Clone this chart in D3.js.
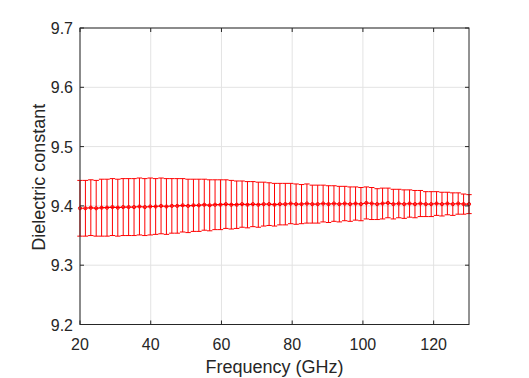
<!DOCTYPE html>
<html><head><meta charset="utf-8">
<script src="https://cdn.jsdelivr.net/npm/d3@7"></script>
<style>body{margin:0;background:#fff}svg{display:block}text{font-family:"Liberation Sans",Arial,sans-serif}</style>
</head><body><svg id="c" width="529" height="378"></svg>
<script>
const freqs = [20.00,21.53,23.06,24.58,26.11,27.64,29.17,30.69,32.22,33.75,35.28,36.81,38.33,39.86,41.39,42.92,44.44,45.97,47.50,49.03,50.56,52.08,53.61,55.14,56.67,58.19,59.72,61.25,62.78,64.31,65.83,67.36,68.89,70.42,71.94,73.47,75.00,76.53,78.06,79.58,81.11,82.64,84.17,85.69,87.22,88.75,90.28,91.81,93.33,94.86,96.39,97.92,99.44,100.97,102.50,104.03,105.56,107.08,108.61,110.14,111.67,113.19,114.72,116.25,117.78,119.31,120.83,122.36,123.89,125.42,126.94,128.47,130.00];
const means = [9.396,9.396,9.397,9.396,9.397,9.397,9.398,9.397,9.398,9.398,
9.398,9.399,9.398,9.399,9.399,9.400,9.399,9.400,9.400,9.401,
9.400,9.401,9.401,9.402,9.401,9.402,9.402,9.403,9.402,9.402,
9.403,9.402,9.403,9.402,9.403,9.403,9.402,9.403,9.403,9.404,
9.403,9.403,9.404,9.403,9.403,9.404,9.403,9.404,9.403,9.404,
9.403,9.404,9.403,9.405,9.404,9.403,9.404,9.405,9.403,9.404,
9.403,9.404,9.403,9.404,9.403,9.403,9.404,9.403,9.404,9.403,
9.404,9.403,9.403];
const errs = [.047,.047,.047,.047,.048,.048,.048,.048,.048,.048,
.048,.048,.048,.048,.047,.047,.047,.046,.046,.045,
.045,.044,.044,.043,.043,.042,.042,.041,.041,.040,
.039,.039,.038,.038,.037,.036,.036,.035,.035,.034,
.034,.033,.033,.032,.032,.031,.031,.030,.030,.029,
.029,.028,.028,.027,.027,.026,.026,.025,.025,.024,
.024,.023,.023,.022,.021,.021,.020,.020,.019,.019,
.018,.017,.016];
const xTicks = [20,40,60,80,100,120];
const yTicks = [9.2,9.3,9.4,9.5,9.6,9.7];

const L=80,R=469,T=28,B=324.5;
const svg=d3.select("#c");
const x=d3.scaleLinear().domain([20,130]).range([L,R]);
const y=d3.scaleLinear().domain([9.2,9.7]).range([B,T]);
const axisCol="#262626", gridCol="#e3e3e3";

// grid
svg.append("g").selectAll("line").data(xTicks).join("line")
  .attr("x1",d=>x(d)).attr("x2",d=>x(d)).attr("y1",T).attr("y2",B)
  .attr("stroke",gridCol).attr("stroke-width",1);
svg.append("g").selectAll("line").data(yTicks).join("line")
  .attr("x1",L).attr("x2",R).attr("y1",d=>y(d)).attr("y2",d=>y(d))
  .attr("stroke",gridCol).attr("stroke-width",1);

// error bars
const data=freqs.map((f,i)=>({f,m:means[i],e:errs[i]}));
const cap=2.7, red="#ff0000";
const eb=svg.append("g").attr("stroke",red).attr("stroke-width",1).attr("fill","none");
eb.selectAll("line.v").data(data).join("line").attr("class","v")
  .attr("x1",d=>x(d.f)).attr("x2",d=>x(d.f)).attr("y1",d=>y(d.m+d.e)).attr("y2",d=>y(d.m-d.e));
eb.selectAll("line.t").data(data).join("line").attr("class","t")
  .attr("x1",d=>x(d.f)-cap).attr("x2",d=>x(d.f)+cap).attr("y1",d=>y(d.m+d.e)).attr("y2",d=>y(d.m+d.e));
eb.selectAll("line.b").data(data).join("line").attr("class","b")
  .attr("x1",d=>x(d.f)-cap).attr("x2",d=>x(d.f)+cap).attr("y1",d=>y(d.m-d.e)).attr("y2",d=>y(d.m-d.e));
eb.append("path").datum(data).attr("d",d3.line().x(d=>x(d.f)).y(d=>y(d.m))).attr("stroke-width",1.2);
eb.selectAll("circle").data(data).join("circle")
  .attr("cx",d=>x(d.f)).attr("cy",d=>y(d.m)).attr("r",1.6);

// box + ticks
const ax=svg.append("g").attr("stroke",axisCol).attr("stroke-width",1).attr("fill","none");
ax.append("rect").attr("x",L).attr("y",T).attr("width",R-L).attr("height",B-T);
const tl=4;
ax.selectAll("line.xb").data(xTicks).join("line").attr("class","xb")
  .attr("x1",d=>x(d)).attr("x2",d=>x(d)).attr("y1",B).attr("y2",B-tl);
ax.selectAll("line.xt").data(xTicks).join("line").attr("class","xt")
  .attr("x1",d=>x(d)).attr("x2",d=>x(d)).attr("y1",T).attr("y2",T+tl);
ax.selectAll("line.yl").data(yTicks).join("line").attr("class","yl")
  .attr("x1",L).attr("x2",L+tl).attr("y1",d=>y(d)).attr("y2",d=>y(d));
ax.selectAll("line.yr").data(yTicks).join("line").attr("class","yr")
  .attr("x1",R).attr("x2",R-tl).attr("y1",d=>y(d)).attr("y2",d=>y(d));

// labels
const fs=16;
svg.append("g").selectAll("text").data(xTicks).join("text")
  .attr("x",d=>x(d)).attr("y",B+25).attr("text-anchor","middle")
  .attr("font-size",fs).attr("fill",axisCol).text(d=>d);
svg.append("g").selectAll("text").data(yTicks).join("text")
  .attr("x",L-7).attr("y",d=>y(d)+6).attr("text-anchor","end")
  .attr("font-size",fs).attr("fill",axisCol).text(d=>d.toFixed(1));
svg.append("text").attr("x",(L+R)/2).attr("y",373).attr("text-anchor","middle")
  .attr("font-size",18).attr("fill",axisCol).text("Frequency (GHz)");
svg.append("text").attr("transform",`translate(45,${(T+B)/2+1}) rotate(-90)`).attr("text-anchor","middle")
  .attr("font-size",18).attr("fill",axisCol).text("Dielectric constant");
</script></body></html>
